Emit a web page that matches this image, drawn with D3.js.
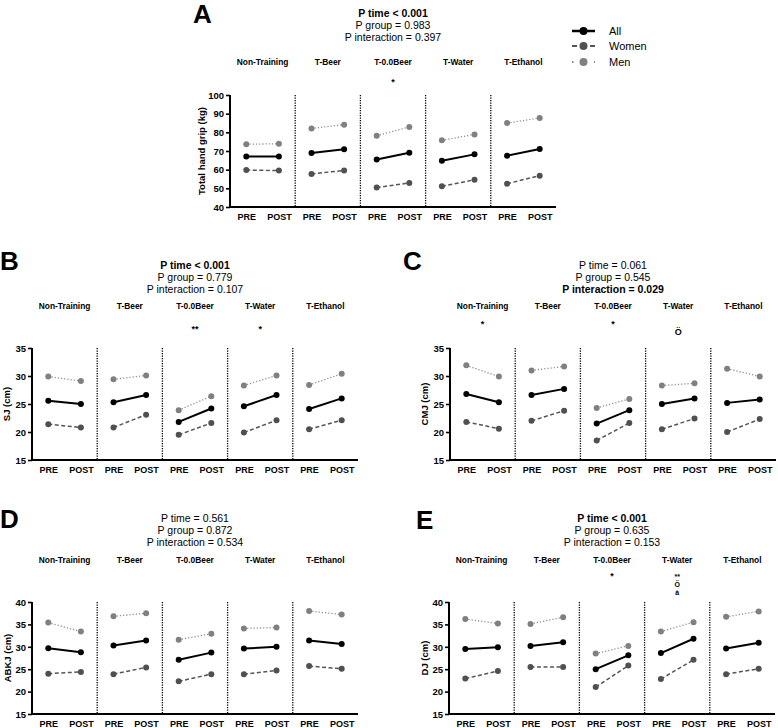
<!DOCTYPE html>
<html>
<head>
<meta charset="utf-8">
<script src="https://cdn.jsdelivr.net/npm/d3@7"></script>
<style>
  html, body { margin: 0; padding: 0; background: #fff; }
  svg { display: block; font-family: "Liberation Sans", Arial, Helvetica, sans-serif; }
</style>
</head>
<body>
<svg id="chart" width="778" height="728"></svg>
<script>
// ---------- data ----------
const groups = ["Non-Training", "T-Beer", "T-0.0Beer", "T-Water", "T-Ethanol"];
const times = ["PRE", "POST"];
const seriesNames = ["All", "Women", "Men"];

// values ordered: group1 PRE, group1 POST, group2 PRE, ...
const gripAll   = [67.1, 67.1, 68.9, 70.9, 65.4, 69.1, 64.8, 68.2, 67.5, 71.1];
const gripWomen = [59.8, 59.5, 57.7, 59.6, 50.4, 52.9, 51.1, 54.6, 52.5, 56.8];
const gripMen   = [73.6, 73.9, 82.1, 84.1, 78.2, 82.9, 75.7, 78.9, 85.0, 87.7];

const sjAll   = [25.6, 25.0, 25.3, 26.6, 21.8, 24.2, 24.6, 26.6, 24.1, 26.0];
const sjWomen = [21.4, 20.8, 20.8, 23.1, 19.5, 21.6, 19.9, 22.1, 20.5, 22.1];
const sjMen   = [29.9, 29.1, 29.4, 30.1, 23.9, 26.4, 28.3, 30.1, 28.4, 30.4];

const cmjAll   = [26.8, 25.3, 26.6, 27.7, 21.5, 23.9, 25.0, 26.0, 25.2, 25.8];
const cmjWomen = [21.8, 20.6, 22.0, 23.8, 18.5, 21.6, 20.5, 22.4, 20.0, 22.3];
const cmjMen   = [31.9, 29.9, 31.0, 31.7, 24.3, 25.9, 28.3, 28.7, 31.3, 29.9];

const abkjAll   = [29.7, 28.8, 30.3, 31.4, 27.1, 28.7, 29.6, 30.0, 31.4, 30.6];
const abkjWomen = [24.0, 24.4, 23.9, 25.4, 22.3, 23.9, 23.9, 24.7, 25.7, 25.1];
const abkjMen   = [35.4, 33.4, 36.8, 37.5, 31.6, 32.9, 34.1, 34.3, 38.0, 37.2];

const djAll   = [29.5, 29.9, 30.2, 31.0, 25.0, 28.1, 28.6, 31.8, 29.6, 30.9];
const djWomen = [22.9, 24.6, 25.5, 25.5, 21.0, 25.8, 22.8, 27.1, 23.9, 25.1];
const djMen   = [36.2, 35.2, 35.1, 36.6, 28.5, 30.2, 33.4, 35.5, 36.7, 37.9];

const ticksGrip = [40, 50, 60, 70, 80, 90, 100];
const ticksJump = [15, 20, 25, 30, 35];
const ticksJump40 = [15, 20, 25, 30, 35, 40];

// title lines: [text, bold]
const titlesA = [["P time < 0.001", true], ["P group = 0.983", false], ["P interaction = 0.397", false]];
const titlesB = [["P time < 0.001", true], ["P group = 0.779", false], ["P interaction = 0.107", false]];
const titlesC = [["P time = 0.061", false], ["P group = 0.545", false], ["P interaction = 0.029", true]];
const titlesD = [["P time = 0.561", false], ["P group = 0.872", false], ["P interaction = 0.534", false]];
const titlesE = [["P time < 0.001", true], ["P group = 0.635", false], ["P interaction = 0.153", false]];

// significance marks per group (stacked lines)
const marksA = [[], [], ["*"], [], []];
const marksB = [[], [], ["**"], ["*"], []];
const marksC = [["*"], [], ["*"], ["", "Ö"], []];
const marksD = [[], [], [], [], []];
const marksE = [[], [], ["*"], ["**", "Ö", "à"], []];

// ---------- layout / style ----------
const FONT_TITLE = 10.5, FONT_GROUP = 8.4, FONT_TICK = 9, FONT_YLAB = 9.5;
const styles = {
  All:   { color: "#000", dot: "#000", width: 2, dash: null },
  Women: { color: "#555", dot: "#505050", width: 1.5, dash: "4,2.5" },
  Men:   { color: "#8c8c8c", dot: "#808080", width: 1.3, dash: "1.2,2" }
};

const panels = [
  { letter: "A", lx: 193, ly: 23, x0: 230, x1: 556, top: 95, bottom: 207, domain: [40, 100], ticks: ticksGrip,
    ylabel: "Total hand grip (kg)", ylabOff: 25, data: { All: gripAll, Women: gripWomen, Men: gripMen },
    titles: titlesA, titleY: 17, groupY: 65, markY: 85, marks: marksA },
  { letter: "B", lx: 0, ly: 270, x0: 32, x1: 358, top: 348, bottom: 460, domain: [15, 35], ticks: ticksJump,
    ylabel: "SJ (cm)", ylabOff: 22, data: { All: sjAll, Women: sjWomen, Men: sjMen },
    titles: titlesB, titleY: 269, groupY: 309, markY: 332, marks: marksB },
  { letter: "C", lx: 403, ly: 270, x0: 450, x1: 776, top: 348, bottom: 460, domain: [15, 35], ticks: ticksJump,
    ylabel: "CMJ (cm)", ylabOff: 22, data: { All: cmjAll, Women: cmjWomen, Men: cmjMen },
    titles: titlesC, titleY: 269, groupY: 309, markY: 327, marks: marksC },
  { letter: "D", lx: 0, ly: 528, x0: 32, x1: 358, top: 602, bottom: 714, domain: [15, 40], ticks: ticksJump40,
    ylabel: "ABKJ (cm)", ylabOff: 21, data: { All: abkjAll, Women: abkjWomen, Men: abkjMen },
    titles: titlesD, titleY: 522, groupY: 563, markY: 579, marks: marksD },
  { letter: "E", lx: 416, ly: 529, x0: 449, x1: 775, top: 602, bottom: 714, domain: [15, 40], ticks: ticksJump40,
    ylabel: "DJ (cm)", ylabOff: 21, data: { All: djAll, Women: djWomen, Men: djMen },
    titles: titlesE, titleY: 522, groupY: 563, markY: 579, marks: marksE }
];

const svg = d3.select("#chart");
const slots = [];
groups.forEach(g => times.forEach(t => slots.push(g + "|" + t)));

panels.forEach(p => {
  const gp = svg.append("g");
  const x = d3.scalePoint().domain(slots).range([p.x0, p.x1]).padding(0.5);
  const y = d3.scaleLinear().domain(p.domain).range([p.bottom, p.top]);
  const step = x.step();

  // panel letter
  gp.append("text").attr("x", p.lx).attr("y", p.ly)
    .attr("font-size", 26).attr("font-weight", "bold").text(p.letter);

  // titles
  const cx = (p.x0 + p.x1) / 2;
  p.titles.forEach((t, i) => {
    gp.append("text").attr("x", cx).attr("y", p.titleY + i * 12)
      .attr("text-anchor", "middle").attr("font-size", FONT_TITLE)
      .attr("font-weight", t[1] ? "bold" : "normal").text(t[0]);
  });

  // group labels and marks
  groups.forEach((g, gi) => {
    const gx = (x(g + "|PRE") + x(g + "|POST")) / 2;
    gp.append("text").attr("x", gx).attr("y", p.groupY)
      .attr("text-anchor", "middle").attr("font-size", FONT_GROUP)
      .attr("font-weight", "bold").text(g);
    const stacked = p.marks[gi].filter(m => m).length > 1;
    p.marks[gi].forEach((m, mi) => {
      if (!m) return;
      gp.append("text").attr("x", gx).attr("y", p.markY + mi * 8)
        .attr("text-anchor", "middle").attr("font-size", stacked ? 7 : 9)
        .attr("font-weight", "bold").text(m);
    });
  });

  // separators
  for (let k = 1; k < groups.length; k++) {
    const sx = x(slots[2 * k]) - step / 2;
    gp.append("line").attr("x1", sx).attr("x2", sx)
      .attr("y1", p.top).attr("y2", p.bottom)
      .attr("stroke", "#000").attr("stroke-width", 1.3)
      .attr("stroke-dasharray", "1.2,1.3");
  }

  // series
  ["Men", "Women", "All"].forEach(s => {
    const st = styles[s];
    const vals = p.data[s];
    groups.forEach((g, gi) => {
      const pts = times.map((t, ti) => [x(g + "|" + t), y(vals[gi * 2 + ti])]);
      gp.append("path").attr("d", d3.line()(pts))
        .attr("fill", "none").attr("stroke", st.color)
        .attr("stroke-width", st.width)
        .attr("stroke-dasharray", st.dash);
      pts.forEach(pt => {
        gp.append("circle").attr("cx", pt[0]).attr("cy", pt[1]).attr("r", 3)
          .attr("fill", st.dot);
      });
    });
  });

  // axes
  const yAxis = d3.axisLeft(y).tickValues(p.ticks).tickSize(4).tickSizeOuter(0).tickPadding(2);
  const ya = gp.append("g").attr("transform", `translate(${p.x0},0)`).call(yAxis);
  ya.select(".domain").attr("stroke-width", 2).attr("d", `M0,${p.top}V${p.bottom + 1}`);
  ya.selectAll(".tick line").attr("stroke-width", 1.6);
  ya.selectAll(".tick text").attr("font-size", 9.5).attr("font-weight", "bold")
    .attr("font-family", null).attr("dy", "0.35em");

  const xAxis = d3.axisBottom(x).tickSize(0).tickPadding(7).tickFormat(d => d.split("|")[1]);
  const xa = gp.append("g").attr("transform", `translate(0,${p.bottom})`).call(xAxis);
  xa.select(".domain").attr("stroke-width", 2).attr("d", `M${p.x0 - 1},0H${p.x1}`);
  xa.selectAll(".tick text").attr("font-size", FONT_TICK).attr("font-weight", "bold")
    .attr("font-family", null);

  // y label
  gp.append("text")
    .attr("transform", `translate(${p.x0 - p.ylabOff},${(p.top + p.bottom) / 2}) rotate(-90)`)
    .attr("text-anchor", "middle").attr("font-size", FONT_YLAB).attr("font-weight", "bold")
    .text(p.ylabel);
});

// legend
const legendY = [31, 46, 62];
seriesNames.forEach((s, i) => {
  const st = styles[s];
  const lg = svg.append("g");
  const ly = legendY[i];
  lg.append("line").attr("x1", 572).attr("x2", 595).attr("y1", ly).attr("y2", ly)
    .attr("stroke", st.color).attr("stroke-width", s === "All" ? 2.5 : 2)
    .attr("stroke-dasharray", s === "Women" ? "5,13" : (s === "Men" ? "1.5,9.5" : null));
  lg.append("circle").attr("cx", 583.5).attr("cy", ly).attr("r", 4).attr("fill", st.dot);
  lg.append("text").attr("x", 609).attr("y", ly + 4).attr("font-size", 11).text(s);
});
</script>
</body>
</html>
